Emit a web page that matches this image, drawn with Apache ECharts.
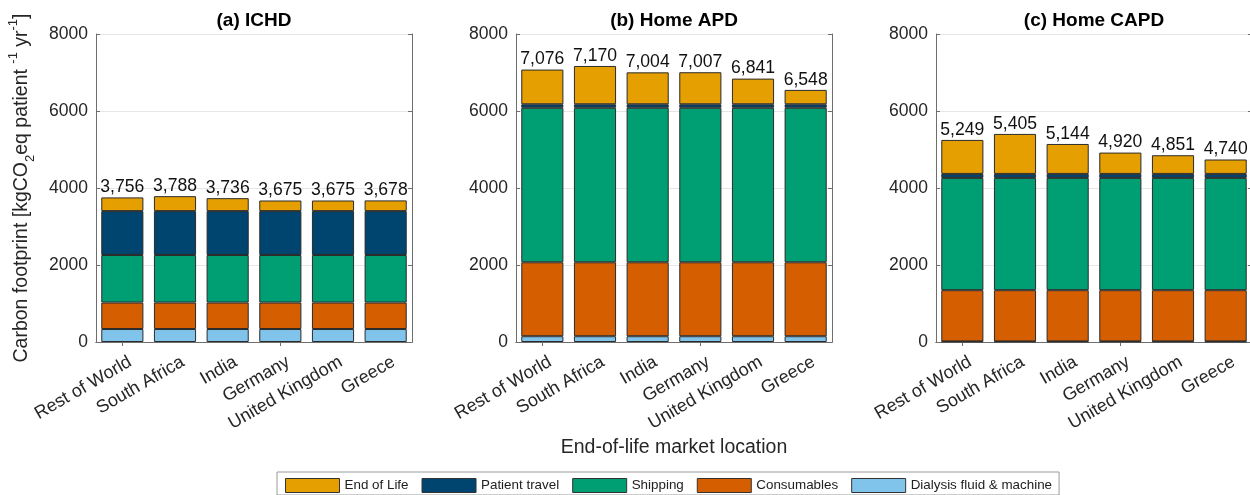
<!DOCTYPE html>
<html>
<head>
<meta charset="utf-8">
<script src="https://cdn.jsdelivr.net/npm/echarts@6/dist/echarts.min.js"></script>
<style>
  html, body { margin: 0; padding: 0; background: #ffffff; }
  #chart { width: 1250px; height: 495px; }
</style>
</head>
<body>
<div id="chart"></div>
<script>
// End-of-life market locations (x categories, shared by all panels)
const locations = ['Rest of World', 'South Africa', 'India', 'Germany', 'United Kingdom', 'Greece'];
const panelTitles = ['(a) ICHD', '(b) Home APD', '(c) Home CAPD'];
const yMin = 0, yMax = 8000, yStep = 2000;

// Component names, stacked bottom to top
const componentNames = ['Dialysis fluid & machine', 'Consumables', 'Shipping', 'Patient travel', 'End of Life'];
const componentColors = ['#80c4ec', '#d55e00', '#009e73', '#00456f', '#e69f00'];
const legendOrder = ['End of Life', 'Patient travel', 'Shipping', 'Consumables', 'Dialysis fluid & machine'];

// (a) In-centre haemodialysis, kgCO2eq per patient per year
const ichdDialysis    = [337, 337, 337, 337, 337, 337];
const ichdConsumables = [688, 688, 688, 688, 688, 688];
const ichdShipping    = [1235, 1235, 1235, 1235, 1235, 1235];
const ichdTravel      = [1140, 1140, 1140, 1140, 1140, 1140];
const ichdEndOfLife   = [356, 388, 336, 275, 275, 278];

// (b) Home automated peritoneal dialysis
const apdDialysis    = [150, 150, 150, 150, 150, 150];
const apdConsumables = [1921, 1921, 1921, 1921, 1921, 1921];
const apdShipping    = [4013, 4013, 4013, 4013, 4013, 4013];
const apdTravel      = [91, 91, 91, 91, 91, 91];
const apdEndOfLife   = [901, 995, 829, 832, 666, 373];

// (c) Home continuous ambulatory peritoneal dialysis
const capdDialysis    = [15, 15, 15, 15, 15, 15];
const capdConsumables = [1331, 1331, 1331, 1331, 1331, 1331];
const capdShipping    = [2916, 2916, 2916, 2916, 2916, 2916];
const capdTravel      = [104, 104, 104, 104, 104, 104];
const capdEndOfLife   = [883, 1039, 778, 554, 485, 374];

const panels = [
  [ichdDialysis, ichdConsumables, ichdShipping, ichdTravel, ichdEndOfLife],
  [apdDialysis, apdConsumables, apdShipping, apdTravel, apdEndOfLife],
  [capdDialysis, capdConsumables, capdShipping, capdTravel, capdEndOfLife]
];

const FONT = "'Liberation Sans', Arial, Helvetica, sans-serif";
const TEXT = '#262626';
const FRAME = '#6e6e6e';

const plotLefts = [96, 516, 936];
const plotTop = 34, plotW = 316, plotH = 308;

const grid = [], xAxis = [], yAxis = [], series = [], graphic = [];

panels.forEach((stackData, p) => {
  grid.push({ left: plotLefts[p], top: plotTop, width: plotW, height: plotH, outerBoundsMode: 'none' });

  // bottom category axis with rotated labels
  xAxis.push({
    type: 'category', gridIndex: p, data: locations, position: 'bottom',
    axisLine: { show: true, lineStyle: { color: FRAME, width: 1 } },
    axisTick: { show: true, inside: true, alignWithLabel: true, length: 4, lineStyle: { color: FRAME } },
    axisLabel: {
      show: true, interval: 0, rotate: 30, margin: 13,
      align: 'right', verticalAlign: 'top', padding: [0, -4, 0, 0],
      fontFamily: FONT, fontSize: 18, color: TEXT
    },
    splitLine: { show: false }
  });
  // top edge of the box with inward ticks
  xAxis.push({
    type: 'category', gridIndex: p, data: locations, position: 'top',
    axisLine: { show: true, lineStyle: { color: FRAME, width: 1 } },
    axisTick: { show: true, inside: true, alignWithLabel: true, length: 4, lineStyle: { color: FRAME } },
    axisLabel: { show: false }, splitLine: { show: false }
  });
  // left value axis
  yAxis.push({
    type: 'value', gridIndex: p, min: yMin, max: yMax, interval: yStep, position: 'left',
    axisLine: { show: true, lineStyle: { color: FRAME, width: 1 } },
    axisTick: { show: true, inside: true, length: 4, lineStyle: { color: FRAME } },
    axisLabel: {
      show: true, margin: 8, fontFamily: FONT, fontSize: 17.5, color: TEXT,
      formatter: (v) => String(v)
    },
    splitLine: { show: true, lineStyle: { color: '#e6e6e6', width: 1 } }
  });
  // right edge of the box with inward ticks
  yAxis.push({
    type: 'value', gridIndex: p, min: yMin, max: yMax, interval: yStep, position: 'right',
    axisLine: { show: true, lineStyle: { color: FRAME, width: 1 } },
    axisTick: { show: true, inside: true, length: 4, lineStyle: { color: FRAME } },
    axisLabel: { show: false }, splitLine: { show: false }
  });

  stackData.forEach((values, k) => {
    const isTop = k === stackData.length - 1;
    series.push({
      name: componentNames[k],
      type: 'bar',
      stack: 'panel' + p,
      xAxisIndex: p * 2,
      yAxisIndex: p * 2,
      barWidth: '80%',
      data: values,
      itemStyle: { color: componentColors[k], borderColor: '#2b2b2b', borderWidth: 1 },
      emphasis: { disabled: true },
      label: isTop ? {
        show: true, position: 'top', distance: 1,
        fontFamily: FONT, fontSize: 17.6, color: '#111111',
        formatter: (prm) => {
          const total = stackData.reduce((s, arr) => s + arr[prm.dataIndex], 0);
          return total.toLocaleString('en-US');
        }
      } : { show: false }
    });
  });

  // panel title
  graphic.push({
    type: 'text', x: plotLefts[p] + plotW / 2, y: 21,
    style: { text: panelTitles[p], font: 'bold 19px ' + FONT, fill: '#000000', align: 'center', verticalAlign: 'middle' }
  });
});

// shared y-axis title with sub/superscripts
graphic.push({
  type: 'text', x: 22, y: 188, rotation: Math.PI / 2,
  style: {
    text: '{n|Carbon footprint [kgCO}{sub|2}{n|eq patient }{sup|-1}{n| yr}{sup|-1}{n|]}',
    align: 'center', verticalAlign: 'middle',
    rich: {
      n:   { fontFamily: FONT, fontSize: 19.5, fill: TEXT, lineHeight: 30, verticalAlign: 'middle' },
      sub: { fontFamily: FONT, fontSize: 13, fill: TEXT, lineHeight: 13, verticalAlign: 'bottom' },
      sup: { fontFamily: FONT, fontSize: 13, fill: TEXT, lineHeight: 13, verticalAlign: 'top' }
    }
  }
});

// shared x-axis title
graphic.push({
  type: 'text', x: 674, y: 448,
  style: { text: 'End-of-life market location', font: '19.5px ' + FONT, fill: TEXT, align: 'center', verticalAlign: 'middle' }
});

const chart = echarts.init(document.getElementById('chart'), null, { renderer: 'canvas' });
chart.setOption({
  backgroundColor: '#ffffff',
  animation: false,
  grid, xAxis, yAxis, series, graphic,
  legend: {
    data: legendOrder,
    left: 277, top: 472,
    orient: 'horizontal',
    icon: 'rect',
    itemWidth: 54, itemHeight: 14, itemGap: 13,
    padding: [6, 7, 2, 8],
    borderColor: '#9a9a9a', borderWidth: 1,
    selectedMode: false,
    itemStyle: { borderColor: '#333333', borderWidth: 1 },
    textStyle: { fontFamily: FONT, fontSize: 13.4, color: '#222222' }
  }
});
</script>
</body>
</html>
